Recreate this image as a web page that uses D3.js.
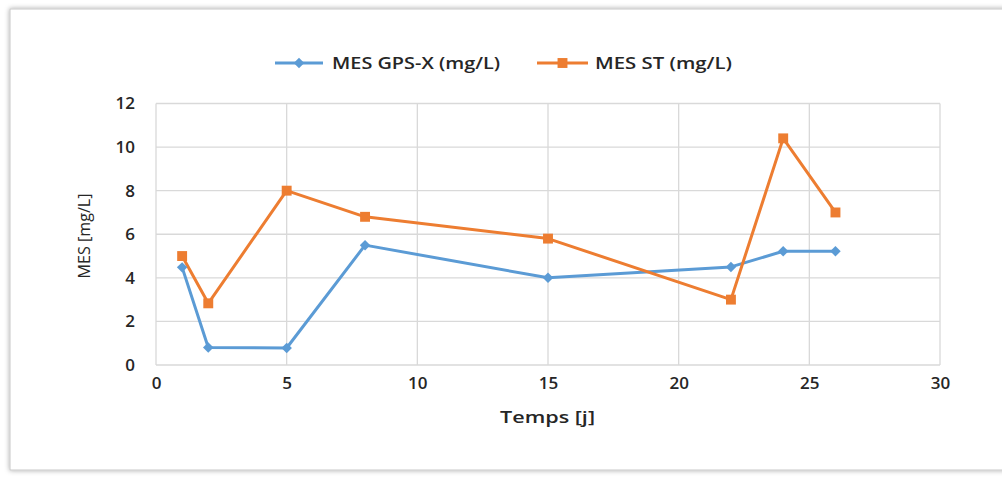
<!DOCTYPE html>
<html><head><meta charset="utf-8">
<script src="https://cdn.jsdelivr.net/npm/d3@7"></script>
<style>body{margin:0;background:#fff}svg{display:block}text{font-family:"Open Sans",sans-serif;fill:#262626}</style>
</head><body><svg id="c" width="1002" height="477"></svg>
<script>
const days = [1, 2, 5, 8, 15, 22, 24, 26];
const gpsx = [4.48, 0.8, 0.78, 5.5, 4.0, 4.5, 5.22, 5.22];
const st = [5.0, 2.83, 8.0, 6.8, 5.8, 3.0, 10.4, 7.0];
const seriesNames = ["MES GPS-X (mg/L)", "MES ST (mg/L)"];
const xTicks = [0, 5, 10, 15, 20, 25, 30];
const yTicks = [0, 2, 4, 6, 8, 10, 12];
const xTitle = "Temps [j]";
const yTitle = "MES [mg/L]";

const svg = d3.select("#c");
const defs = svg.append("defs");
const f = defs.append("filter").attr("id","sh").attr("x","-5%").attr("y","-5%").attr("width","110%").attr("height","110%");
f.append("feDropShadow").attr("dx",0).attr("dy",0).attr("stdDeviation",2.5).attr("flood-color","#000").attr("flood-opacity",0.35);
svg.append("rect").attr("x",10).attr("y",9).attr("width",1010).attr("height",461).attr("fill","#fff").attr("stroke","#c8c8c8").attr("stroke-width",1).attr("filter","url(#sh)");

const x = d3.scaleLinear().domain([0,30]).range([156,940]);
const y = d3.scaleLinear().domain([0,12]).range([365,103.5]);

const g = svg.append("g");
g.selectAll(".hg").data(yTicks).join("line").attr("x1",x(0)).attr("x2",x(30)).attr("y1",d=>y(d)).attr("y2",d=>y(d)).attr("stroke","#d9d9d9").attr("stroke-width",1.3);
g.selectAll(".vg").data(xTicks).join("line").attr("y1",y(0)).attr("y2",y(12)).attr("x1",d=>x(d)).attr("x2",d=>x(d)).attr("stroke","#d9d9d9").attr("stroke-width",1.3);

const xa = svg.append("g").attr("transform",`translate(0,${y(0)})`).call(d3.axisBottom(x).tickValues(xTicks).tickSize(0).tickPadding(12));
xa.select(".domain").remove();
xa.selectAll("text").style("font-size","17px").style("font-weight","600").attr("fill","#262626").style("font-family","'Open Sans',sans-serif");
const ya = svg.append("g").attr("transform",`translate(${x(0)},0)`).call(d3.axisLeft(y).tickValues(yTicks).tickSize(0).tickPadding(21));
ya.select(".domain").remove();
ya.selectAll("text").style("font-size","17px").style("font-weight","600").attr("fill","#262626").style("font-family","'Open Sans',sans-serif");

svg.append("text").attr("x",500).attr("y",423).style("font-size","17px").style("font-weight","600").attr("textLength",95).attr("lengthAdjust","spacingAndGlyphs").text(xTitle);
svg.append("text").attr("transform",`translate(90,236) rotate(-90)`).attr("text-anchor","middle").style("font-size","16px").style("font-weight","500").attr("textLength",85).attr("lengthAdjust","spacingAndGlyphs").text(yTitle);

const line = d3.line().x((d,i)=>x(days[i])).y(d=>y(d));
const colors = ["#5b9bd5","#ed7d31"];
const diamond = d3.symbol().type(d3.symbolDiamond2).size(70);
const square = d3.symbol().type(d3.symbolSquare2).size(125);

[gpsx, st].forEach((s,k)=>{
  svg.append("path").datum(s).attr("d",line).attr("fill","none").attr("stroke",colors[k]).attr("stroke-width",3).attr("stroke-linejoin","round");
});
[gpsx, st].forEach((s,k)=>{
  svg.selectAll(null).data(s).join("path").attr("transform",(d,i)=>`translate(${x(days[i])},${y(d)})`)
    .attr("d",k===0?diamond:square).attr("fill",colors[k]);
});

const leg = [{x1:275,x2:323,tx:332,tl:168},{x1:537,x2:588,tx:595,tl:137}];
leg.forEach((L,k)=>{
  svg.append("line").attr("x1",L.x1).attr("x2",L.x2).attr("y1",63).attr("y2",63).attr("stroke",colors[k]).attr("stroke-width",3);
  svg.append("path").attr("transform",`translate(${(L.x1+L.x2)/2},63)`).attr("d",k===0?diamond:square).attr("fill",colors[k]);
  svg.append("text").attr("x",L.tx).attr("y",69).style("font-size","17px").style("font-weight","600").attr("textLength",L.tl).attr("lengthAdjust","spacingAndGlyphs").text(seriesNames[k]);
});
</script></body></html>
